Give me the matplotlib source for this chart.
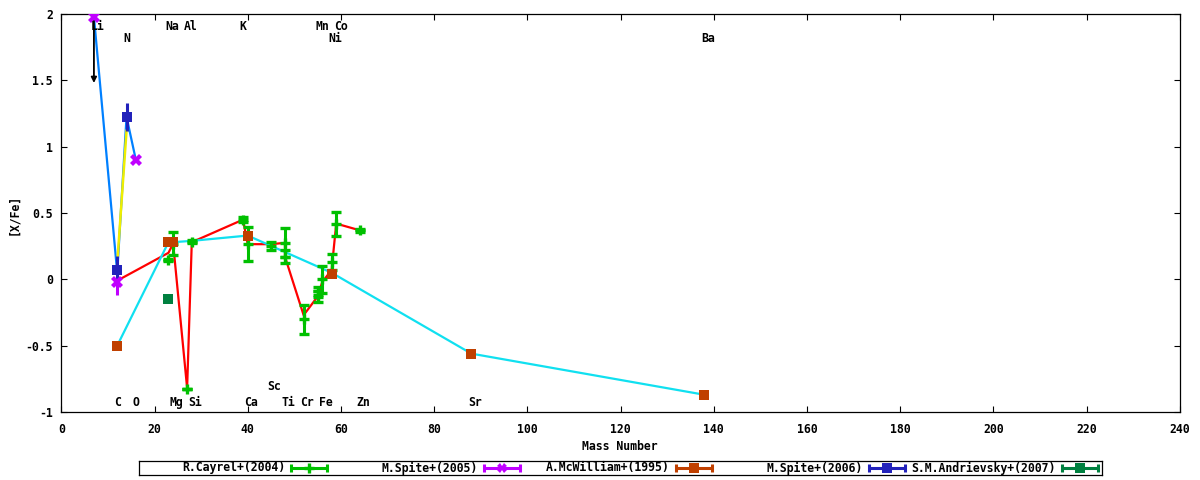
import matplotlib
matplotlib.use('Agg')
import matplotlib.pyplot as plt

# ---------------- data ----------------
cay_mass = [23, 24, 27, 28, 39, 40, 45, 48, 48, 52, 55, 55, 56, 58, 59, 64]
cay_val  = [0.145, 0.27, -0.83, 0.285, 0.45, 0.265, 0.25, 0.276, 0.17, -0.30, -0.13, -0.09, 0.0, 0.13, 0.42, 0.37]
cay_err  = [0.01, 0.085, 0.0, 0.01, 0.02, 0.13, 0.03, 0.11, 0.05, 0.11, 0.04, 0.03, 0.10, 0.06, 0.09, 0.01]

sp05_mass = [7, 12, 16]
sp05_val  = [1.98, -0.02, 0.90]
sp05_err  = [0.0, 0.10, 0.0]

mcw_mass = [12, 23, 24, 40, 58, 88, 138]
mcw_val  = [-0.50, 0.28, 0.28, 0.33, 0.04, -0.56, -0.87]

sp06_mass = [12, 14]
sp06_val  = [0.07, 1.225]
sp06_err  = [0.105, 0.105]

andr_mass = [23]
andr_val  = [-0.15]

red_mass = [12, 23, 24, 27, 28, 39, 40, 45, 48, 48, 52, 55, 56, 58, 59, 64]
red_val  = [-0.01, 0.20, 0.27, -0.82, 0.28, 0.45, 0.265, 0.265, 0.275, 0.17, -0.27, -0.13, -0.02, 0.07, 0.42, 0.37]

cyan_mass = [12, 23, 24, 28, 40, 58, 88, 138]
cyan_val  = [-0.50, 0.28, 0.28, 0.29, 0.33, 0.05, -0.56, -0.87]

blue_mass = [7, 12, 14, 16]
blue_val  = [1.98, 0.05, 1.225, 0.90]

yellow_mass = [12, 14]
yellow_val  = [0.12, 1.12]

li_limit_mass = 7
li_limit_from = 1.98
li_limit_to = 1.48

labels_top1 = [("Li", 7.7), ("Na", 23.9), ("Al", 27.7), ("K", 39.0), ("Mn", 56.1), ("Co", 60.0)]
labels_top2 = [("N", 14.1), ("Ni", 58.8), ("Ba", 138.8)]
labels_bot = [("C", 12.1), ("O", 16.0), ("Mg", 24.8), ("Si", 28.7), ("Ca", 40.7),
              ("Ti", 48.7), ("Cr", 52.8), ("Fe", 56.8), ("Zn", 64.8), ("Sr", 88.8)]
labels_sc = [("Sc", 45.7)]

legend_names = ["R.Cayrel+(2004)", "M.Spite+(2005)", "A.McWilliam+(1995)",
                "M.Spite+(2006)", "S.M.Andrievsky+(2007)"]

xticks = [0, 20, 40, 60, 80, 100, 120, 140, 160, 180, 200, 220, 240]
yticks = [-1, -0.5, 0, 0.5, 1, 1.5, 2]
ytick_labels = ["-1", "-0.5", "0", "0.5", "1", "1.5", "2"]

# ---------------- style ----------------
FONT = dict(family='DejaVu Sans Mono', weight='bold', size=8.3)
C_GREEN = '#00c000'
C_MAG = '#c000ff'
C_ORG = '#c04000'
C_BLUE = '#2222bb'
C_DGRN = '#008040'
C_RED = '#ff0000'
C_CYAN = '#10e0f0'
C_LBLUE = '#0080ff'
C_YEL = '#eeee00'

fig = plt.figure(figsize=(12, 4.8), dpi=100)
ax = fig.add_axes([61.3/1200, 1-412/480, (1179.7-61.3)/1200, (412-14)/480])
ax.set_xlim(0, 240)
ax.set_ylim(-1, 2)

# model lines
ax.plot(red_mass, red_val, color=C_RED, lw=1.6, zorder=2)
ax.plot(cyan_mass, cyan_val, color=C_CYAN, lw=1.6, zorder=2.1)
ax.plot(blue_mass, blue_val, color=C_LBLUE, lw=1.6, zorder=2.2)
ax.plot(yellow_mass, yellow_val, color=C_YEL, lw=1.8, zorder=2.3)

# Li upper limit arrow
ax.annotate("", xy=(li_limit_mass, li_limit_to), xytext=(li_limit_mass, li_limit_from),
            arrowprops=dict(arrowstyle='-|>', color='black', lw=1.3,
                            mutation_scale=8, shrinkA=0, shrinkB=0), zorder=3)

eb = dict(elinewidth=2.2, capsize=3.5, capthick=2.2, ls='none', zorder=4)
ax.errorbar(cay_mass, cay_val, yerr=cay_err, color=C_GREEN, marker='+', ms=7.5, mew=2.4, **eb)
ax.errorbar(sp05_mass, sp05_val, yerr=sp05_err, color=C_MAG, marker='X', ms=8, mew=0, **eb)
ax.plot(mcw_mass, mcw_val, ls='none', marker='s', ms=7.5, color=C_ORG, mew=0, zorder=4.5)
ax.errorbar(sp06_mass, sp06_val, yerr=sp06_err, color=C_BLUE, marker='s', ms=7, mew=0, **eb)
ax.plot(andr_mass, andr_val, ls='none', marker='s', ms=7.5, color=C_DGRN, mew=0, zorder=4.5)

# element labels
for name, xm in labels_top1:
    ax.text(xm, 1.909, name, ha='center', va='center', zorder=6, **FONT)
for name, xm in labels_top2:
    ax.text(xm, 1.818, name, ha='center', va='center', zorder=6, **FONT)
for name, xm in labels_bot:
    ax.text(xm, -0.927, name, ha='center', va='center', zorder=6, **FONT)
for name, xm in labels_sc:
    ax.text(xm, -0.809, name, ha='center', va='center', zorder=6, **FONT)

# axes styling
ax.set_xticks(xticks)
ax.set_xticklabels([str(t) for t in xticks])
ax.set_yticks(yticks)
ax.set_yticklabels(ytick_labels)
ax.tick_params(direction='in', length=4, width=0.8, top=True, right=True,
               labelsize=8.3)
ax.tick_params(axis='x', pad=8)
ax.tick_params(axis='y', pad=6)
for lab in ax.get_xticklabels() + ax.get_yticklabels():
    lab.set_fontfamily('DejaVu Sans Mono')
    lab.set_fontweight('bold')
for sp in ax.spines.values():
    sp.set_linewidth(0.9)
    sp.set_color('black')

fig.text(620/1200, 1-447/480, "Mass Number", ha='center', va='center', **FONT)
fig.text(14/1200, 1-214/480, "[X/Fe]", ha='center', va='center', rotation=90, **FONT)

# legend (gnuplot-like key)
lax = fig.add_axes([139/1200, 1-475/480, (1102-139)/1200, 14/480])
lax.set_xlim(139, 1102)
lax.set_ylim(0, 1)
lax.set_xticks([])
lax.set_yticks([])
for sp in lax.spines.values():
    sp.set_linewidth(0.9)
text_ends = [285, 478, 670, 862.5, 1056]
styles = [(C_GREEN, '+'), (C_MAG, 'X'), (C_ORG, 's'), (C_BLUE, 's'), (C_DGRN, 's')]
for name, xe, (col, mk) in zip(legend_names, text_ends, styles):
    lax.text(xe, 0.5, name, ha='right', va='center', **FONT)
    x1, x2 = xe + 6, xe + 42
    lax.plot([x1, x2], [0.5, 0.5], color=col, lw=2.2, solid_capstyle='butt')
    lax.plot([x1, x1], [0.2, 0.8], color=col, lw=2.2, solid_capstyle='butt')
    lax.plot([x2, x2], [0.2, 0.8], color=col, lw=2.2, solid_capstyle='butt')
    if mk == '+':
        lax.plot([(x1 + x2) / 2], [0.5], marker='+', ms=7, mew=2.4, color=col)
    else:
        lax.plot([(x1 + x2) / 2], [0.5], marker=mk, ms=7, mew=0, color=col)

fig.savefig('out.png', dpi=100)
